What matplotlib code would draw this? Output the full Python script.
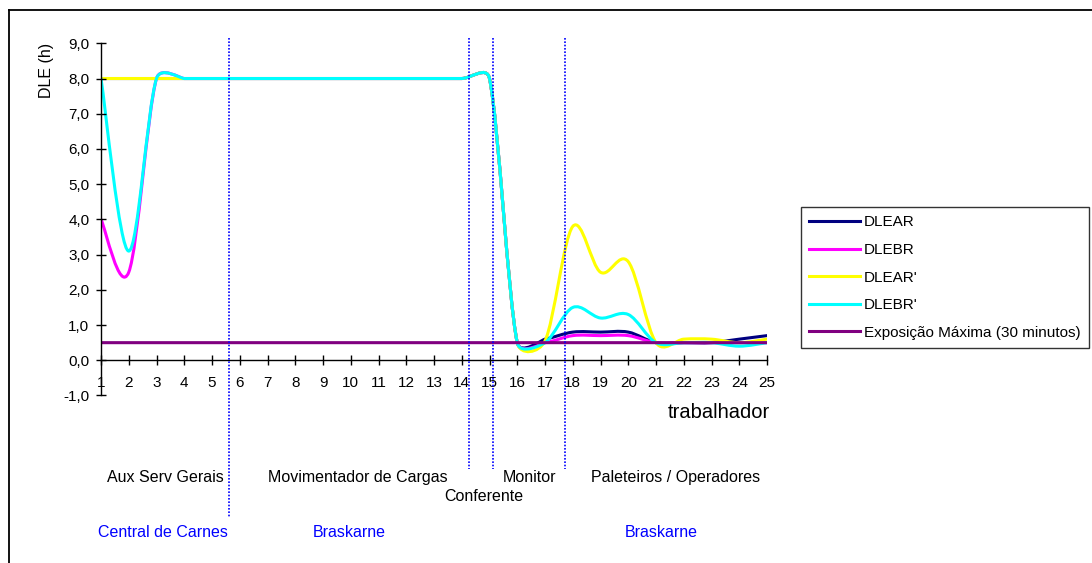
import matplotlib
matplotlib.use("Agg")
import matplotlib.pyplot as plt
from matplotlib.path import Path
from matplotlib.patches import PathPatch
from matplotlib.lines import Line2D

plt.rcParams['font.family'] = ['Liberation Sans', 'DejaVu Sans']

W, H = 1092, 563

# =========================
# DATA
# =========================
trabalhador = list(range(1, 26))

dlear = [8.0] * 15 + [0.5, 0.6, 0.8, 0.8, 0.8, 0.5, 0.5, 0.5, 0.6, 0.7]
dlebr = [4.0, 2.5] + [8.0] * 13 + [0.5, 0.5, 0.7, 0.7, 0.7, 0.5, 0.5, 0.5, 0.5, 0.5]
dlear_l = [8.0] * 15 + [0.5, 0.55, 3.8, 2.5, 2.8, 0.5, 0.6, 0.6, 0.5, 0.6]
dlebr_l = [8.0, 3.1] + [8.0] * 13 + [0.5, 0.5, 1.5, 1.2, 1.3, 0.5, 0.5, 0.5, 0.4, 0.5]
exposicao = [0.5] * 25

series_names = ["DLEAR", "DLEBR", "DLEAR'", "DLEBR'", "Exposição Máxima (30 minutos)"]
series_values = [dlear, dlebr, dlear_l, dlebr_l, exposicao]
series_colors = ["#000080", "#FF00FF", "#FFFF00", "#00FFFF", "#800080"]

y_ticks = [-1, 0, 1, 2, 3, 4, 5, 6, 7, 8, 9]

# group separators (x position, bottom of line)
separators = [(5.61, -4.45), (14.26, -3.1), (15.14, -3.1), (17.72, -3.1)]

funcoes = [
    ("Aux Serv Gerais", 3.31, -3.34),
    ("Movimentador de Cargas", 10.27, -3.34),
    ("Monitor", 16.43, -3.34),
    ("Paleteiros / Operadores", 21.72, -3.34),
    ("Conferente", 14.78, -3.88),
]
empresas = [
    ("Central de Carnes", 3.25, -4.9),
    ("Braskarne", 9.96, -4.9),
    ("Braskarne", 21.18, -4.9),
]


# =========================
# EXCEL-LIKE SMOOTHED LINE
# =========================
def dist(a, b):
    return ((a[0] - b[0]) ** 2 + (a[1] - b[1]) ** 2) ** 0.5


def smooth_path(xs, ys, sx, sy):
    pts = [(x * sx, y * sy) for x, y in zip(xs, ys)]
    n = len(pts)
    verts = [(xs[0], ys[0])]
    codes = [Path.MOVETO]
    for i in range(n - 1):
        p0 = pts[max(i - 1, 0)]
        p1 = pts[i]
        p2 = pts[i + 1]
        p3 = pts[min(i + 2, n - 1)]
        d02 = dist(p0, p2)
        d12 = dist(p1, p2)
        d13 = dist(p1, p3)
        f1 = 1 / 6 if d02 / 6 < d12 / 2 else d12 / (2 * d02)
        f2 = 1 / 6 if d13 / 6 < d12 / 2 else d12 / (2 * d13)
        if f1 < 1 / 6 and f2 == 1 / 6:
            f2 = f1
        c1 = (p1[0] + (p2[0] - p0[0]) * f1, p1[1] + (p2[1] - p0[1]) * f1)
        c2 = (p2[0] - (p3[0] - p1[0]) * f2, p2[1] - (p3[1] - p1[1]) * f2)
        for p in (c1, c2, p2):
            verts.append((p[0] / sx, p[1] / sy))
        codes += [Path.CURVE4] * 3
    return Path(verts, codes)


# =========================
# FIGURE
# =========================
fig = plt.figure(figsize=(W / 100, H / 100), dpi=100)
ax_l, ax_b, ax_w, ax_h = 101, 167.5, 666, 352.2
ax = fig.add_axes([ax_l / W, ax_b / H, ax_w / W, ax_h / H])
ax.set_xlim(1, 25)
ax.set_ylim(-1, 9)

sx = ax_w / 24
sy = ax_h / 10

for name, vals, col in zip(series_names, series_values, series_colors):
    patch = PathPatch(smooth_path(trabalhador, vals, sx, sy), facecolor="none",
                      edgecolor=col, lw=2.2, transform=ax.transData,
                      capstyle="round", joinstyle="round")
    ax.add_patch(patch)

# axes style
for s in ["top", "right"]:
    ax.spines[s].set_visible(False)
ax.spines["bottom"].set_position(("data", 0))
ax.spines["left"].set_linewidth(1)
ax.spines["bottom"].set_linewidth(1)

ax.set_xticks(trabalhador)
ax.set_xticklabels([str(t) for t in trabalhador])
ax.set_yticks(y_ticks)
ax.set_yticklabels([f"{v:.1f}".replace(".", ",") for v in y_ticks])
ax.tick_params(axis="both", direction="inout", length=6.5, width=1,
               labelsize=11, colors="black")
ax.tick_params(axis="y", pad=5.2)
ax.tick_params(axis="x", pad=7.8)

# separators
for xs_, yb in separators:
    ax.plot([xs_, xs_], [9.16, yb], color="#0000FF", lw=1.2,
            linestyle=(0, (1, 1)), clip_on=False, zorder=5)

for txt, x, y in funcoes:
    ax.text(x, y, txt, ha="center", va="center", fontsize=11.5, clip_on=False)
for txt, x, y in empresas:
    ax.text(x, y, txt, ha="center", va="center", fontsize=11.5,
            color="#0000FF", clip_on=False)

ax.text(23.27, -1.47, "trabalhador", ha="center", va="center", fontsize=14.5)
fig.text(46 / W, 1 - 70 / H, "DLE (h)", rotation=90, ha="center", va="center",
         fontsize=11.5)

# legend
handles = [Line2D([], [], color=c, lw=2.2) for c in series_colors]
leg = fig.legend(handles, series_names, loc="upper left",
                 bbox_to_anchor=(800.7 / W, 1 - 207 / H), borderaxespad=0,
                 fontsize=11, frameon=True, fancybox=False, edgecolor="black",
                 handlelength=3.3, handletextpad=0.3, labelspacing=0.89,
                 borderpad=0.55)
leg.get_frame().set_linewidth(1.0)

# outer chart border (top and left visible)
fig.add_artist(Line2D([9 / W, 9 / W], [0, 1 - 9.5 / H], color="black", lw=1.3))
fig.add_artist(Line2D([9 / W, 1], [1 - 9.5 / H, 1 - 9.5 / H], color="black", lw=1.3))

fig.savefig("out.png", dpi=100)
